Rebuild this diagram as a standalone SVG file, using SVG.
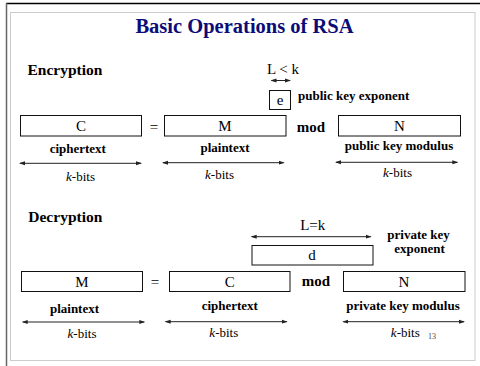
<svg xmlns="http://www.w3.org/2000/svg" width="480" height="366" viewBox="0 0 480 366">
<defs>
<marker id="ah" viewBox="0 0 6 6" refX="5" refY="3" markerWidth="6" markerHeight="6" markerUnits="userSpaceOnUse" orient="auto-start-reverse">
<path d="M0,1 L6,3 L0,5 Z" fill="#222"/>
</marker>
<style>
.box{fill:#fff;stroke:#111;stroke-width:1}
.arr{stroke:#222;stroke-width:1;fill:none;marker-start:url(#ah);marker-end:url(#ah)}
text{font-family:"Liberation Serif","Times New Roman",serif;fill:#000}
.b{font-weight:bold}
.lbl{font-size:13px;font-weight:bold;text-anchor:middle}
.kb{font-size:13px;text-anchor:middle}
.hd{font-size:15.5px;font-weight:bold}
.sym{font-size:15px;text-anchor:middle}
.mod{font-size:15px;font-weight:bold}
</style>
</defs>
<rect width="480" height="366" fill="#fff"/>
<line x1="6" y1="3.5" x2="480" y2="3.5" stroke="#000" stroke-width="1.5"/>
<line x1="6.5" y1="3" x2="6.5" y2="366" stroke="#666" stroke-width="1.5"/>
<rect x="10.5" y="12.5" width="464.5" height="348" fill="none" stroke="#ccc" stroke-width="1"/>
<text x="244.5" y="33" font-size="20.5" font-weight="bold" text-anchor="middle" style="fill:#0c0c78">Basic Operations of RSA</text>

<g id="encryption">
<text class="hd" x="27.5" y="75">Encryption</text>
<text class="sym" x="283" y="74.3" font-size="14.5">L &lt; k</text>
<g id="enc-e"><rect class="box" x="269.5" y="90.5" width="21" height="19"/><text class="sym" x="280" y="104.5">e</text></g>
<text class="b" x="298" y="100" font-size="13">public key exponent</text>
<g id="enc-C"><rect class="box" x="20.5" y="115.5" width="121" height="20.5"/><text class="sym" x="81" y="131">C</text></g>
<text class="sym" x="154" y="131.5">=</text>
<g id="enc-M"><rect class="box" x="164.5" y="115.5" width="121.5" height="20.5"/><text class="sym" x="225" y="131">M</text></g>
<text class="mod" x="296.7" y="131.7">mod</text>
<g id="enc-N"><rect class="box" x="338.5" y="115.5" width="122" height="20.5"/><text class="sym" x="399.5" y="131">N</text></g>
<text class="lbl" x="77.8" y="153.3">ciphertext</text>
<text class="lbl" x="225" y="151.7">plaintext</text>
<text class="lbl" x="399" y="150">public key modulus</text>
<text class="kb" x="80.5" y="180.7"><tspan font-style="italic">k</tspan>-bits</text>
<text class="kb" x="219.5" y="179.3"><tspan font-style="italic">k</tspan>-bits</text>
<text class="kb" x="397.5" y="176.7"><tspan font-style="italic">k</tspan>-bits</text>
</g>

<g id="decryption">
<text class="hd" x="28.3" y="221.7">Decryption</text>
<text class="sym" x="312.7" y="230" font-size="14.5">L=k</text>
<g id="dec-d"><rect class="box" x="252" y="245.5" width="121" height="19.5"/><text class="sym" x="312" y="260">d</text></g>
<text class="lbl" x="418.5" y="239.3">private key</text>
<text class="lbl" x="419.5" y="253.3">exponent</text>
<g id="dec-M"><rect class="box" x="21.5" y="271.5" width="121" height="20"/><text class="sym" x="82" y="286.5">M</text></g>
<text class="sym" x="155" y="287">=</text>
<g id="dec-C"><rect class="box" x="169.5" y="271.5" width="120.5" height="20"/><text class="sym" x="229.8" y="286.5">C</text></g>
<text class="mod" x="301.7" y="286">mod</text>
<g id="dec-N"><rect class="box" x="343.5" y="271.5" width="121.5" height="20"/><text class="sym" x="404" y="286.5">N</text></g>
<text class="lbl" x="74.5" y="313.3">plaintext</text>
<text class="lbl" x="229.8" y="310">ciphertext</text>
<text class="lbl" x="403" y="310">private key modulus</text>
<text class="kb" x="82" y="338.3"><tspan font-style="italic">k</tspan>-bits</text>
<text class="kb" x="223.8" y="336.7"><tspan font-style="italic">k</tspan>-bits</text>
<text class="kb" x="405.3" y="336.7"><tspan font-style="italic">k</tspan>-bits</text>
<text x="428" y="339.3" font-size="8" style="fill:#444">13</text>
</g>

<g id="connectors">
<line class="arr" x1="271.5" y1="80.5" x2="290" y2="80.5"/>
<line class="arr" x1="20" y1="163.3" x2="141" y2="163.3"/>
<line class="arr" x1="163" y1="162.7" x2="283.7" y2="162.7"/>
<line class="arr" x1="336" y1="162.3" x2="457.3" y2="162.3"/>
<line class="arr" x1="251.7" y1="236.7" x2="370.7" y2="236.7"/>
<line class="arr" x1="22.7" y1="322" x2="144.3" y2="322"/>
<line class="arr" x1="165.7" y1="321.7" x2="286.7" y2="321.7"/>
<line class="arr" x1="343.3" y1="321.7" x2="464" y2="321.7"/>
</g>
</svg>
